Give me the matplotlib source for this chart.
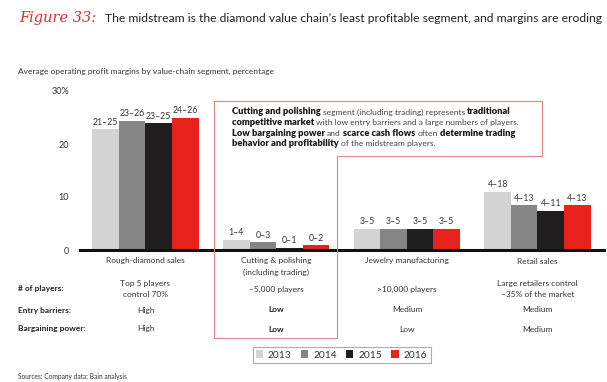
import matplotlib
matplotlib.use("Agg")
import matplotlib.pyplot as plt
import numpy as np
from matplotlib.patches import Polygon

plt.rcParams['font.family'] = ['Lato', 'DejaVu Sans']

segments = ['Rough-diamond sales', 'Cutting & polishing\n(including trading)',
            'Jewelry manufacturing', 'Retail sales']
years = ['2013', '2014', '2015', '2016']
colors = ['#d3d3d3', '#858585', '#1f1d1e', '#e8231e']

# margin bar heights (as drawn) and range labels, per year
m2013 = [22.8, 1.9, 4.0, 11.0]
m2014 = [24.4, 1.45, 4.0, 8.4]
m2015 = [23.9, 0.4, 4.0, 7.4]
m2016 = [24.9, 0.9, 4.0, 8.4]
r2013 = ['21–25', '1–4', '3–5', '4–18']
r2014 = ['23–26', '0–3', '3–5', '4–13']
r2015 = ['23–25', '0–1', '3–5', '4–11']
r2016 = ['24–26', '0–2', '3–5', '4–13']

players = ['Top 5 players\ncontrol 70%', '~5,000 players', '>10,000 players',
           'Large retailers control\n~35% of the market']
entry = ['High', 'Low', 'Medium', 'Medium']
bargaining = ['High', 'Low', 'Low', 'Medium']

W, H = 607, 382
fig = plt.figure(figsize=(W / 100, H / 100), dpi=100)
txt = '#333333'


def px(x, y):
    return x / W, 1 - y / H


ax = fig.add_axes([80 / W, 1 - 250 / H, (604 - 80) / W, (250 - 91) / H])
x = np.arange(len(segments))
bw = 0.203
series = [m2013, m2014, m2015, m2016]
ranges = [r2013, r2014, r2015, r2016]
bars = []
for i, (vals, labs) in enumerate(zip(series, ranges)):
    b = ax.bar(x + (i - 1.5) * bw, vals, bw, color=colors[i], label=years[i])
    bars.append(b)
    for xi, v, l in zip(x + (i - 1.5) * bw, vals, labs):
        ax.text(xi, v + 0.5, l, ha='center', va='bottom', fontsize=6.3, color=txt)

ax.set_xlim(-0.501, 3.509)
ax.set_ylim(0, 30)
ax.set_yticks([0, 10, 20, 30])
ax.set_yticklabels(['0', '10', '20', '30%'], fontsize=6.5, color=txt)
ax.tick_params(axis='y', length=0, pad=8)
ax.set_xticks([])
for s in ax.spines.values():
    s.set_visible(False)
ax.axhline(0, color='#111111', lw=2.2, clip_on=False)
ax.patch.set_alpha(0)

# titles
fig.text(*px(19, 18), 'Figure 33:', color='#d9302b', fontsize=10.5,
         style='italic', va='center', family=['DejaVu Serif'])
fig.text(*px(105, 18), 'The midstream is the diamond value chain\u2019s least profitable segment, and margins are eroding',
         fontsize=8.7, color='#222222', va='center')
fig.text(*px(18, 71), 'Average operating profit margins by value-chain segment, percentage',
         fontsize=6.0, color=txt, va='center')

# red outline box
box = Polygon([px(214, 101), px(542, 101), px(542, 156), px(337, 156),
               px(337, 338), px(214, 338)], closed=True, fill=False,
              edgecolor='#e08585', lw=0.8, transform=fig.transFigure)
fig.patches.append(box)

renderer = fig.canvas.get_renderer()


def rich_line(x0, y0, runs, size=6.1, sp=2.1):
    xx = x0
    for t, bold in runs:
        tt = fig.text(*px(xx, y0), t, fontsize=size + (0.6 if bold else 0),
                      va='center',
                      fontweight='heavy' if bold else 'normal',
                      color='#1a1a1a' if bold else '#444444')
        xx += tt.get_window_extent(renderer).width + sp


note = [
    [('Cutting and polishing', True), ('segment (including trading) represents', False), ('traditional', True)],
    [('competitive market', True), ('with low entry barriers and a large numbers of players.', False)],
    [('Low bargaining power', True), ('and', False), ('scarce cash flows', True), ('often', False),
     ('determine trading', True)],
    [('behavior and profitability', True), ('of the midstream players.', False)],
]
for k, runs in enumerate(note):
    rich_line(232, 112 + k * 10.5, runs)

# category labels and table
centers = [145.5, 276, 407, 537.5]
for c, seg in zip(centers, segments):
    for j, line in enumerate(seg.split('\n')):
        fig.text(*px(c, 261 + j * 11.5), line, ha='center', va='center',
                 fontsize=6, color=txt)
for c, p in zip(centers, players):
    lines = p.split('\n')
    y0 = 289 - (len(lines) - 1) * 5.5
    for j, line in enumerate(lines):
        fig.text(*px(c, y0 + j * 11), line, ha='center', va='center',
                 fontsize=6, color=txt)
for c, e, b in zip(centers, entry, bargaining):
    for yy, v in ((310, e), (329, b)):
        fig.text(*px(c, yy), v, ha='center', va='center', fontsize=6,
                 color='#222222' if c == 276 else txt,
                 fontweight='bold' if c == 276 else 'normal')
for yy, lab in ((289, '# of players:'), (310, 'Entry barriers:'), (329, 'Bargaining power:')):
    fig.text(*px(18, yy), lab, ha='left', va='center', fontsize=6,
             fontweight='bold', color='#222222')

# legend
leg = fig.legend(handles=bars, labels=years, ncol=4, loc='center',
                 bbox_to_anchor=px(341.5, 355), frameon=True, fancybox=False,
                 edgecolor='#999999', fontsize=7.4, handlelength=0.7,
                 handleheight=0.7, handletextpad=0.5, columnspacing=0.9,
                 borderpad=0.3, labelcolor=txt)
leg.get_frame().set_linewidth(0.8)

fig.text(*px(18, 376), 'Sources: Company data; Bain analysis', fontsize=4.8,
         color=txt, va='center')

fig.savefig('out.png', dpi=100, facecolor='white')
